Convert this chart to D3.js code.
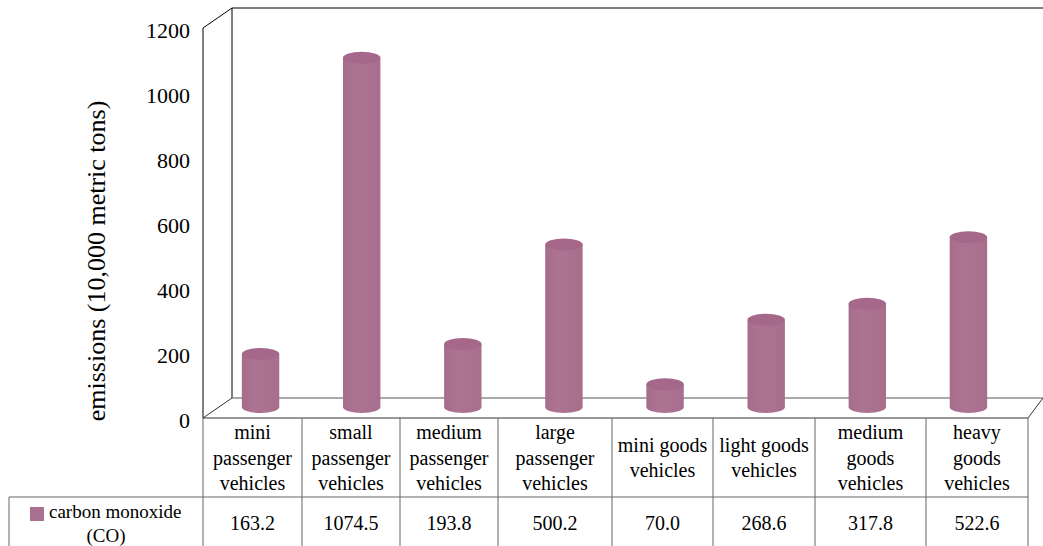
<!DOCTYPE html>
<html>
<head>
<meta charset="utf-8">
<script src="https://cdn.jsdelivr.net/npm/d3@7"></script>
<style>
  html, body { margin: 0; padding: 0; background: #fff; }
  svg { display: block; }
</style>
</head>
<body>
<svg id="chart" width="1043" height="546"></svg>
<script>
// ---- data ----
const categories = [
  "mini passenger vehicles", "small passenger vehicles", "medium passenger vehicles",
  "large passenger vehicles", "mini goods vehicles", "light goods vehicles",
  "medium goods vehicles", "heavy goods vehicles"
];
const categoryLines = [
  ["mini", "passenger", "vehicles"],
  ["small", "passenger", "vehicles"],
  ["medium", "passenger", "vehicles"],
  ["large", "passenger", "vehicles"],
  ["mini goods", "vehicles"],
  ["light goods", "vehicles"],
  ["medium", "goods", "vehicles"],
  ["heavy", "goods", "vehicles"]
];
const seriesName = ["carbon monoxide", "(CO)"];
const coValues = [163.2, 1074.5, 193.8, 500.2, 70.0, 268.6, 317.8, 522.6];
const yTicks = [0, 200, 400, 600, 800, 1000, 1200];
const axisTitle = "emissions (10,000 metric tons)";

// ---- layout ----
const FONT = "Liberation Serif";
const svg = d3.select("#chart");
const frontLeft = 203, frontRight = 1028, frontBase = 418, frontTop = 28;
const depthX = 29, depthY = 20;
const colEdges = [203, 302, 400, 498, 612, 713, 815, 926, 1028];
const tableRowBottom = 497, tableBottom = 546, legendLeft = 9;
const color = "#AA7090";

const yFront = d3.scaleLinear().domain([0, 1200]).range([frontBase, frontTop]);
const yMid = d3.scaleLinear().domain([0, 1200]).range([407, 407 - (frontBase - frontTop)]);
const xBand = d3.scaleBand().domain(categories).range([210, 1019]).paddingInner(0.63).paddingOuter(0.315);
const colLeft = d3.scaleOrdinal().domain(categories).range(colEdges.slice(0, 8));
const colRight = d3.scaleOrdinal().domain(categories).range(colEdges.slice(1));

// ---- gradients ----
const defs = svg.append("defs");
const g1 = defs.append("linearGradient").attr("id", "cyl").attr("x1", "0").attr("x2", "1").attr("y1", "0").attr("y2", "0");
g1.append("stop").attr("offset", "0").attr("stop-color", "#A66C8B");
g1.append("stop").attr("offset", "0.35").attr("stop-color", "#AC7392");
g1.append("stop").attr("offset", "1").attr("stop-color", "#A86E8D");

// ---- 3D frame ----
const frame = svg.append("g").attr("fill", "none");
frame.append("line").attr("x1", frontLeft + depthX).attr("y1", yFront(1200) - depthY).attr("x2", 1043).attr("y2", yFront(1200) - depthY).attr("stroke", "#000");
frame.append("line").attr("x1", frontLeft + depthX).attr("y1", yFront(1200) - depthY).attr("x2", frontLeft + depthX).attr("y2", frontBase - depthY).attr("stroke", "#000");
frame.append("line").attr("x1", frontLeft).attr("y1", yFront(1200)).attr("x2", frontLeft + depthX).attr("y2", yFront(1200) - depthY).attr("stroke", "#000");
frame.append("line").attr("x1", frontLeft).attr("y1", yFront(1200)).attr("x2", frontLeft).attr("y2", frontBase).attr("stroke", "#000");
frame.append("line").attr("x1", frontLeft + depthX).attr("y1", frontBase - depthY).attr("x2", 1043).attr("y2", frontBase - depthY).attr("stroke", "#555");
frame.append("line").attr("x1", frontLeft).attr("y1", frontBase).attr("x2", frontLeft + depthX).attr("y2", frontBase - depthY).attr("stroke", "#333");
frame.append("line").attr("x1", frontRight).attr("y1", frontBase).attr("x2", 1043).attr("y2", frontBase - depthY).attr("stroke", "#333");
frame.append("line").attr("x1", frontLeft).attr("y1", frontBase).attr("x2", frontRight).attr("y2", frontBase).attr("stroke", "#333");

// ---- y tick labels ----
svg.append("g").selectAll("text").data(yTicks).join("text")
  .style("font-family", FONT)
  .attr("x", 190).attr("y", d => yFront(d) + 10)
  .attr("text-anchor", "end").attr("font-size", 22)
  .text(d => d);

// axis title
svg.append("text")
  .style("font-family", FONT)
  .attr("transform", `translate(105, 261) rotate(-90)`)
  .attr("text-anchor", "middle").attr("font-size", 26)
  .text(axisTitle);

// ---- cylinders ----
const rx = xBand.bandwidth() / 2, ry = 6;
const cyl = svg.append("g").selectAll("g").data(categories).join("g");
cyl.append("path")
  .attr("fill", "url(#cyl)")
  .attr("d", (c, i) => {
    const cx = xBand(c) + rx, yb = yMid(0), yt = yMid(coValues[i]);
    return `M${cx - rx},${yt} L${cx - rx},${yb} A${rx},${ry} 0 0 0 ${cx + rx},${yb} L${cx + rx},${yt} Z`;
  });
cyl.append("ellipse")
  .attr("cx", c => xBand(c) + rx)
  .attr("cy", (c, i) => yMid(coValues[i]))
  .attr("rx", rx).attr("ry", ry)
  .attr("fill", "#A5688A");

// ---- data table ----
const table = svg.append("g");
const lineColor = "#666";
table.selectAll("line.v").data(colEdges).join("line")
  .attr("x1", d => d).attr("x2", d => d)
  .attr("y1", frontBase).attr("y2", tableBottom)
  .attr("stroke", lineColor);
table.append("line").attr("x1", legendLeft).attr("x2", frontRight).attr("y1", tableRowBottom).attr("y2", tableRowBottom).attr("stroke", lineColor);
table.append("line").attr("x1", legendLeft).attr("x2", legendLeft).attr("y1", tableRowBottom).attr("y2", tableBottom).attr("stroke", lineColor);

const lineH = 25.5, rowMid = (frontBase + tableRowBottom) / 2;
categories.forEach((c, i) => {
  const cx = (colLeft(c) + colRight(c)) / 2;
  const lines = categoryLines[i];
  const t = table.append("text").style("font-family", FONT).attr("text-anchor", "middle").attr("font-size", 20);
  lines.forEach((ln, k) => {
    t.append("tspan").attr("x", cx)
      .attr("y", rowMid + (k - (lines.length - 1) / 2) * lineH + 7)
      .text(ln);
  });
  table.append("text").style("font-family", FONT).attr("text-anchor", "middle").attr("font-size", 20)
    .attr("x", cx).attr("y", 530)
    .text(coValues[i].toFixed(1));
});

// legend
table.append("rect").attr("x", 30).attr("y", 507).attr("width", 14).attr("height", 14).attr("fill", color);
table.append("text").style("font-family", FONT).attr("x", 49).attr("y", 518).attr("font-size", 19).text(seriesName[0]);
table.append("text").style("font-family", FONT).attr("x", 106).attr("y", 542).attr("text-anchor", "middle").attr("font-size", 19).text(seriesName[1]);
</script>
</body>
</html>
